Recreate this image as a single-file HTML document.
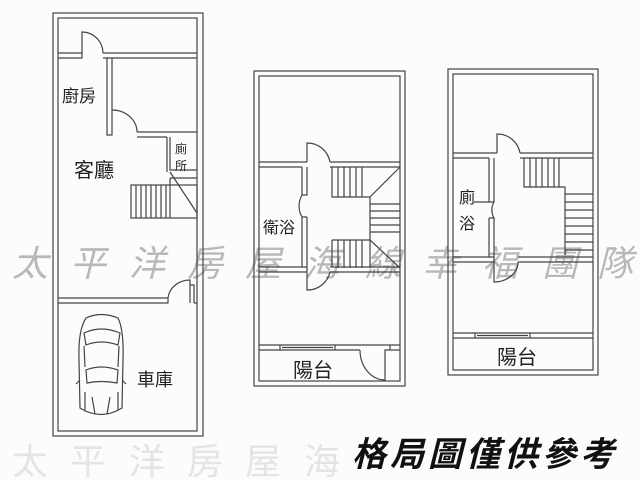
<!DOCTYPE html>
<html><head><meta charset="utf-8"><style>
html,body{margin:0;padding:0;background:#fdfdfd;}
svg{display:block}
text{font-family:"Liberation Sans","Noto Sans CJK TC",sans-serif;}
</style></head><body>
<svg width="640" height="480" viewBox="0 0 640 480" xmlns="http://www.w3.org/2000/svg">
<rect width="640" height="480" fill="#fcfcfc"/>
<!-- watermarks -->
<g fill="#b8b8b8" font-size="36" font-style="italic" text-anchor="middle" font-family="Noto Serif CJK SC, serif">
<text x="30" y="276" font-family="Noto Serif CJK SC,serif">太</text><text x="88" y="276" font-family="Noto Serif CJK SC,serif">平</text><text x="147" y="276" font-family="Noto Serif CJK SC,serif">洋</text><text x="205" y="276" font-family="Noto Serif CJK SC,serif">房</text><text x="263" y="276" font-family="Noto Serif CJK SC,serif">屋</text><text x="322" y="276" font-family="Noto Serif CJK SC,serif">海</text><text x="383" y="276" font-family="Noto Serif CJK SC,serif">線</text><text x="440" y="276" font-family="Noto Serif CJK SC,serif">幸</text><text x="500" y="276" font-family="Noto Serif CJK SC,serif">福</text><text x="560" y="276" font-family="Noto Serif CJK SC,serif">團</text><text x="615" y="276" font-family="Noto Serif CJK SC,serif">隊</text>
</g>
<g fill="#e4e4e4" font-size="36" text-anchor="middle" font-family="Noto Serif CJK SC,serif">
<text x="30" y="474" font-family="Noto Serif CJK SC,serif">太</text><text x="88" y="474" font-family="Noto Serif CJK SC,serif">平</text><text x="147" y="474" font-family="Noto Serif CJK SC,serif">洋</text><text x="205" y="474" font-family="Noto Serif CJK SC,serif">房</text><text x="263" y="474" font-family="Noto Serif CJK SC,serif">屋</text><text x="322" y="474" font-family="Noto Serif CJK SC,serif">海</text>
</g>
<g fill="none" stroke="#444" stroke-width="1.2">
<!-- Building 1 -->
<rect x="53" y="13" width="150" height="423"/>
<rect x="58" y="18" width="139" height="413"/>
<path d="M58 53 H82 V58 H58 M103 53 H197 M103 58 H197 M82 53 V32 A21 21 0 0 1 103 53"/>
<path d="M107 58 V135 H112 V58 M112 132 V110 A25 22 0 0 1 137 132 M137 132 H197 M137 137 H167"/>
<path d="M167 137 V172 M170 137 V170 L197 170"/>
<rect x="131" y="185" width="66" height="33"/>
<path d="M136 185V218M141 185V218M146 185V218M151 185V218M156 185V218M161 185V218M166 185V218M170 185V218 M170 178 H197 M170 172 L197 213 M170 185 V178"/>
<path d="M58 298 H168 V303 H58 M168 298 A22 20 0 0 1 190 280 V303 M190 285 H194 V303 M194 303 H197"/>
<!-- car -->
<path d="M86 318 Q101 311 118 318 Q124 330 123 360 L122 408 Q101 421 80 408 L79 360 Q78 330 86 318 Z"/>
<path d="M84 333 Q101 325 120 333 L118 345 Q101 339 86 345 Z M86 370 Q101 364 118 370 L117 383 Q101 380 87 383 Z M84 346 L85 367 M119 346 L118 367 M80 380 L76 384 M122 380 L126 384 M85 392 L85 410 M118 392 L118 410 M92 397 L95 414 M110 397 L107 414"/>
<!-- Building 2 -->
<rect x="254" y="71" width="151" height="315"/>
<rect x="259" y="76" width="141" height="305"/>
<path d="M259 162 H307 M259 167 H302 M330 162 H400 M330 167 H400 M307 162 V143 A23 23 0 0 1 330 162"/>
<path d="M302 167 V195 H307 V167 M302 217 V267 H259 M307 217 V272 M302 195 A22 22 0 0 0 302 217 L307 217 M307 195 V167"/>
<path d="M259 272 H307 M330 267 H400 M330 272 H400 M307 272 V290 A23 23 0 0 0 330 272 M302 267 H307 M307 290 H310"/>
<path d="M332 167 V197 H370 M332 240 H370 V268 M332 240 V267 M370 197 L400 167 M370 240 L400 268 M370 197 V240"/>
<path d="M338 167V197M344 167V197M350 167V197M356 167V197M362 167V197M338 240V268M344 240V268M350 240V268M356 240V268M362 240V268"/>
<path d="M370 204H400M370 211H400M370 218H400M370 225H400M370 232H400"/>
<path d="M259 345 H400 M259 350 H360 M385 350 H400 M280 345 V350 M335 345 V350 M282 347.5 H333 M360 350 A25 30 0 0 0 385 380 V350 H390 V345"/>
<!-- Building 3 -->
<rect x="448" y="69" width="150" height="306"/>
<rect x="453" y="74" width="140" height="296"/>
<path d="M453 153 H497 M453 158 H489 M520 153 H593 M520 158 H593 M497 153 V134 A23 23 0 0 1 520 153"/>
<path d="M489 158 V202 H494 V158 M489 218 V257 H453 M494 218 V262 M494 202 A16 16 0 0 0 494 218 H489 M474 202 H489"/>
<path d="M453 262 H494 M518 257 H593 M518 262 H593 M494 262 V282 A24 20 0 0 0 518 262 M494 257 H489"/>
<path d="M524 158 V187 H565 V255 M530 158V187M536 158V187M542 158V187M548 158V187M554 158V187M559 158V187 M565 194H593M565 202H593M565 210H593M565 218H593M565 226H593M565 234H593M565 242H593M565 250H593"/>
<path d="M453 333 H593 M453 338 H593 M475 333 V338 M530 333 V338 M477 335.5 H528"/>
</g>
<!-- labels -->
<g fill="#222" font-size="17">
<text x="62" y="102">廚房</text>
<text x="74" y="177" font-size="20">客廳</text>
<text x="175" y="153" font-size="12">廁</text>
<text x="175" y="170" font-size="12">所</text>
<text x="137" y="386" font-size="18">車庫</text>
<text x="263" y="233" font-size="16">衛浴</text>
<text x="293" y="377" font-size="20">陽台</text>
<text x="459" y="203" font-size="16">廁</text>
<text x="459" y="229" font-size="16">浴</text>
<text x="497" y="364" font-size="20">陽台</text>
</g>
<text x="352" y="466" font-size="34" font-weight="bold" fill="#111" font-family="Noto Serif CJK SC,serif" letter-spacing="4" font-style="italic">格局圖僅供參考</text>
</svg>
</body></html>
